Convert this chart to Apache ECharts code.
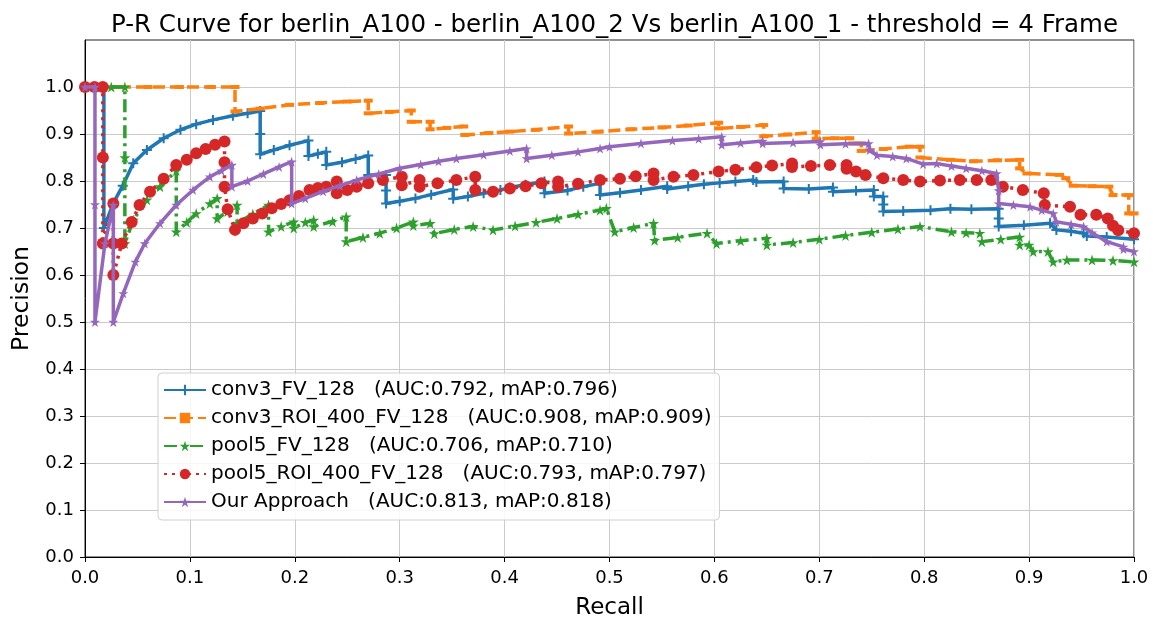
<!DOCTYPE html>
<html>
<head>
<meta charset="utf-8">
<script src="https://cdn.jsdelivr.net/npm/echarts@6/dist/echarts.min.js"></script>
<style>
html,body{margin:0;padding:0;background:#fff;}
#chart{width:1153px;height:622px;}
</style>
</head>
<body>
<div id="chart"></div>
<script>
const titleText = "P-R Curve for berlin_A100 - berlin_A100_2 Vs berlin_A100_1 - threshold = 4 Frame";
const seriesNames = [
  "conv3_FV_128   (AUC:0.792, mAP:0.796)",
  "conv3_ROI_400_FV_128   (AUC:0.908, mAP:0.909)",
  "pool5_FV_128   (AUC:0.706, mAP:0.710)",
  "pool5_ROI_400_FV_128   (AUC:0.793, mAP:0.797)",
  "Our Approach   (AUC:0.813, mAP:0.818)"
];
const xTicks = [0,0.1,0.2,0.3,0.4,0.5,0.6,0.7,0.8,0.9,1.0];
const yTicks = [0,0.1,0.2,0.3,0.4,0.5,0.6,0.7,0.8,0.9,1.0];

// [recall, precision]
const conv3FV = [[0,1.0],[0.018,1.0],[0.018,0.70],[0.027,0.753],[0.036,0.79],[0.046,0.838],[0.059,0.866],[0.075,0.891],[0.091,0.909],[0.106,0.921],[0.122,0.930],[0.141,0.939],[0.155,0.944],[0.167,0.949],[0.167,0.900],[0.167,0.857],[0.180,0.866],[0.195,0.876],[0.213,0.886],[0.213,0.853],[0.222,0.858],[0.230,0.862],[0.230,0.834],[0.245,0.840],[0.258,0.847],[0.270,0.854],[0.270,0.813],[0.287,0.813],[0.287,0.780],[0.287,0.752],[0.300,0.757],[0.315,0.763],[0.330,0.771],[0.351,0.782],[0.351,0.762],[0.365,0.767],[0.380,0.774],[0.396,0.781],[0.405,0.786],[0.420,0.792],[0.438,0.799],[0.438,0.774],[0.460,0.780],[0.475,0.788],[0.491,0.795],[0.491,0.770],[0.510,0.775],[0.530,0.781],[0.555,0.789],[0.555,0.783],[0.575,0.789],[0.590,0.793],[0.605,0.796],[0.620,0.799],[0.637,0.802],[0.640,0.798],[0.666,0.799],[0.666,0.784],[0.690,0.783],[0.713,0.786],[0.713,0.777],[0.735,0.779],[0.752,0.781],[0.752,0.767],[0.761,0.767],[0.761,0.750],[0.761,0.735],[0.780,0.736],[0.806,0.738],[0.825,0.741],[0.845,0.740],[0.871,0.741],[0.871,0.720],[0.871,0.703],[0.895,0.706],[0.920,0.710],[0.926,0.696],[0.940,0.693],[0.952,0.689],[0.955,0.683],[0.974,0.681],[1.0,0.676]];

const conv3ROI = [[0,1.0],[0.03,1.0],[0.06,1.0],[0.09,1.0],[0.12,1.0],[0.143,1.0],[0.143,0.948],[0.167,0.954],[0.195,0.962],[0.224,0.966],[0.250,0.969],[0.270,0.971],[0.270,0.944],[0.290,0.947],[0.311,0.950],[0.311,0.926],[0.329,0.926],[0.329,0.910],[0.345,0.913],[0.361,0.916],[0.362,0.898],[0.385,0.902],[0.405,0.905],[0.430,0.909],[0.461,0.916],[0.461,0.901],[0.490,0.905],[0.520,0.910],[0.550,0.914],[0.575,0.918],[0.604,0.924],[0.604,0.912],[0.625,0.915],[0.647,0.919],[0.647,0.895],[0.670,0.899],[0.697,0.904],[0.697,0.890],[0.715,0.891],[0.729,0.891],[0.732,0.880],[0.740,0.880],[0.740,0.864],[0.761,0.868],[0.786,0.873],[0.796,0.873],[0.796,0.850],[0.825,0.845],[0.847,0.842],[0.870,0.844],[0.891,0.845],[0.891,0.827],[0.898,0.816],[0.929,0.813],[0.935,0.806],[0.942,0.790],[0.960,0.789],[0.976,0.788],[0.980,0.770],[0.995,0.770],[0.995,0.731],[1.0,0.731]];

const pool5FV = [[0,1.0],[0.015,1.0],[0.025,1.0],[0.038,1.0],[0.038,0.85],[0.038,0.667],[0.046,0.717],[0.059,0.760],[0.0715,0.788],[0.087,0.822],[0.087,0.692],[0.097,0.712],[0.106,0.731],[0.119,0.752],[0.126,0.763],[0.126,0.720],[0.136,0.735],[0.145,0.749],[0.145,0.710],[0.160,0.730],[0.175,0.749],[0.175,0.692],[0.187,0.703],[0.199,0.713],[0.199,0.700],[0.210,0.712],[0.218,0.717],[0.218,0.703],[0.236,0.714],[0.249,0.724],[0.249,0.671],[0.265,0.680],[0.281,0.689],[0.297,0.700],[0.313,0.713],[0.313,0.705],[0.329,0.710],[0.333,0.688],[0.352,0.697],[0.370,0.703],[0.389,0.696],[0.410,0.704],[0.430,0.712],[0.450,0.720],[0.470,0.729],[0.491,0.738],[0.497,0.742],[0.505,0.692],[0.523,0.701],[0.542,0.710],[0.543,0.674],[0.565,0.680],[0.593,0.689],[0.602,0.667],[0.625,0.673],[0.650,0.678],[0.650,0.664],[0.675,0.669],[0.700,0.676],[0.725,0.684],[0.750,0.691],[0.775,0.698],[0.796,0.703],[0.826,0.692],[0.840,0.690],[0.853,0.689],[0.855,0.671],[0.873,0.676],[0.891,0.681],[0.891,0.664],[0.900,0.664],[0.904,0.650],[0.918,0.650],[0.923,0.628],[0.936,0.632],[0.960,0.632],[0.980,0.631],[1.0,0.628]];

const pool5ROI = [[0,1.0],[0.009,1.0],[0.017,1.0],[0.017,0.85],[0.017,0.667],[0.027,0.752],[0.027,0.667],[0.027,0.60],[0.035,0.667],[0.0445,0.713],[0.052,0.749],[0.062,0.777],[0.075,0.805],[0.087,0.834],[0.097,0.845],[0.106,0.859],[0.115,0.868],[0.124,0.877],[0.133,0.884],[0.133,0.840],[0.133,0.788],[0.136,0.740],[0.143,0.696],[0.151,0.710],[0.160,0.720],[0.169,0.731],[0.178,0.742],[0.187,0.751],[0.195,0.759],[0.204,0.768],[0.214,0.781],[0.222,0.785],[0.230,0.788],[0.240,0.799],[0.240,0.774],[0.250,0.781],[0.259,0.788],[0.270,0.795],[0.284,0.802],[0.302,0.809],[0.302,0.791],[0.319,0.802],[0.319,0.788],[0.336,0.795],[0.354,0.802],[0.372,0.809],[0.372,0.781],[0.389,0.777],[0.405,0.784],[0.420,0.789],[0.435,0.795],[0.451,0.799],[0.451,0.788],[0.470,0.794],[0.491,0.802],[0.510,0.805],[0.525,0.810],[0.542,0.816],[0.542,0.802],[0.561,0.809],[0.580,0.813],[0.604,0.820],[0.620,0.824],[0.640,0.829],[0.655,0.833],[0.674,0.837],[0.674,0.830],[0.692,0.832],[0.710,0.834],[0.726,0.834],[0.726,0.826],[0.735,0.820],[0.744,0.813],[0.761,0.806],[0.780,0.802],[0.796,0.799],[0.815,0.801],[0.834,0.802],[0.850,0.802],[0.864,0.802],[0.875,0.788],[0.894,0.781],[0.914,0.774],[0.915,0.749],[0.939,0.745],[0.949,0.728],[0.964,0.728],[0.975,0.720],[0.980,0.705],[0.985,0.695],[1.0,0.689]];

const ourApproach = [[0,1.0],[0.0095,1.0],[0.0095,0.75],[0.0095,0.5],[0.019,0.667],[0.027,0.749],[0.027,0.5],[0.0365,0.561],[0.048,0.628],[0.057,0.667],[0.0715,0.710],[0.087,0.749],[0.103,0.781],[0.119,0.809],[0.130,0.822],[0.140,0.834],[0.140,0.788],[0.155,0.800],[0.170,0.815],[0.185,0.830],[0.197,0.841],[0.197,0.752],[0.210,0.763],[0.227,0.778],[0.243,0.790],[0.259,0.802],[0.280,0.815],[0.300,0.827],[0.320,0.835],[0.337,0.842],[0.354,0.848],[0.380,0.856],[0.405,0.864],[0.421,0.869],[0.421,0.848],[0.445,0.855],[0.470,0.862],[0.491,0.869],[0.500,0.873],[0.530,0.880],[0.560,0.886],[0.585,0.890],[0.607,0.894],[0.607,0.877],[0.625,0.881],[0.646,0.885],[0.646,0.880],[0.675,0.882],[0.701,0.884],[0.701,0.877],[0.725,0.879],[0.747,0.880],[0.748,0.866],[0.755,0.855],[0.770,0.852],[0.783,0.848],[0.799,0.836],[0.812,0.837],[0.826,0.832],[0.840,0.827],[0.855,0.822],[0.869,0.816],[0.871,0.780],[0.871,0.752],[0.885,0.749],[0.901,0.745],[0.912,0.738],[0.923,0.731],[0.926,0.713],[0.940,0.708],[0.952,0.703],[0.960,0.690],[0.974,0.671],[0.990,0.660],[0.990,0.655],[1.0,0.650]];

const colors = ['#1f77b4','#ff7f0e','#2ca02c','#d62728','#9467bd'];
const plusPath = 'path://M4,0H6V4H10V6H6V10H4V6H0V4H4Z';
const starPath = 'path://M50,0L61,35L98,35L68,57L79,91L50,70L21,91L32,57L2,35L39,35Z';

const FONT = 'DejaVu Sans';
const chart = echarts.init(document.getElementById('chart'), null, {renderer:'canvas'});

function mk(i, data, symbol, size, lineType, width) {
  return {
    name: seriesNames[i], type: 'line', data: data,
    symbol: symbol, symbolSize: size, showSymbol: true, showAllSymbol: true,
    lineStyle: {color: colors[i], width: width, type: lineType, cap: 'butt'},
    itemStyle: {color: colors[i], borderColor: colors[i], borderWidth: 0},
    emphasis: {disabled: true}, z: 2 + i, clip: true, animation: false
  };
}

const option = {
  animation: false,
  backgroundColor: '#fff',
  title: {
    text: titleText, left: 609.5, top: 8, textAlign: 'center',
    textStyle: {fontFamily: FONT, fontSize: 24.5, fontWeight: 'normal', color: '#000'}
  },
  grid: {left: 85, right: 19, top: 40, bottom: 65, outerBoundsMode: 'none', containLabel: false,
    show: true, borderColor: '#222', borderWidth: 1, backgroundColor: 'transparent'},
  legend: {
    orient: 'vertical', left: 158, top: 373,
    padding: [7, 8, 8, 5], itemGap: 8, itemWidth: 42, itemHeight: 13,
    backgroundColor: 'rgba(255,255,255,0.85)', borderColor: '#d0d0d0', borderWidth: 1, borderRadius: 4,
    textStyle: {fontFamily: FONT, fontSize: 20, color: '#000'},
    data: seriesNames
  },
  xAxis: {
    type: 'value', min: 0, max: 1, interval: 0.1,
    name: 'Recall', nameLocation: 'middle', nameGap: 40,
    nameTextStyle: {fontFamily: FONT, fontSize: 23, color: '#000'},
    axisLine: {show: true, lineStyle: {color: '#000', width: 1}},
    axisTick: {show: true, inside: false, length: 5, lineStyle: {color: '#000'}},
    axisLabel: {fontFamily: FONT, fontSize: 18, color: '#000', margin: 12,
      formatter: v => { const t = xTicks.find(k => Math.abs(k - v) < 1e-6); return t === undefined ? '' : t.toFixed(1); }},
    splitLine: {show: true, lineStyle: {color: '#cbcbcb', width: 1}}
  },
  yAxis: {
    type: 'value', min: 0, max: 1.1, interval: 0.1,
    name: 'Precision', nameLocation: 'middle', nameGap: 51,
    nameTextStyle: {fontFamily: FONT, fontSize: 23.5, color: '#000'},
    axisLine: {show: true, lineStyle: {color: '#000', width: 1}},
    axisTick: {show: true, inside: false, length: 5, lineStyle: {color: '#000'}, customValues: yTicks},
    axisLabel: {fontFamily: FONT, fontSize: 18, color: '#000', margin: 11,
      formatter: v => { const t = yTicks.find(k => Math.abs(k - v) < 1e-6); return t === undefined ? '' : t.toFixed(1); }},
    splitLine: {show: true, lineStyle: {color: '#cbcbcb', width: 1}}
  },
  series: [
    mk(0, conv3FV, plusPath, 10, 'solid', 3.5),
    mk(1, conv3ROI, 'rect', [9, 4], [12, 5], 3.5),
    mk(2, pool5FV, starPath, 11, [13, 5, 3, 5], 3.5),
    mk(3, pool5ROI, 'circle', 12, [3, 5], 3.5),
    mk(4, ourApproach, starPath, 10, 'solid', 3.5)
  ]
};
chart.setOption(option);
</script>
</body>
</html>
